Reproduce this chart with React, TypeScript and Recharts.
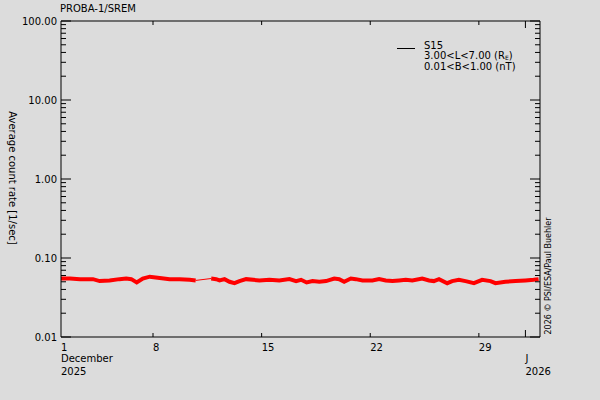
import { LineChart, Line, XAxis, YAxis, ReferenceLine } from "recharts";

const FONT = "'DejaVu Sans', sans-serif";

// S15 channel average count rate, x = day of month (Dec 2025; 32 = 1 Jan 2026)
const seg1Days = [2.07, 2.65, 3.29, 4.13, 4.56, 5.2, 5.84, 6.27, 6.6, 6.95, 7.34, 7.79, 8.43, 9.07, 9.72, 10.36, 10.75];
const seg1Rates = [0.055, 0.055, 0.054, 0.054, 0.051, 0.052, 0.054, 0.055, 0.054, 0.049, 0.055, 0.058, 0.056, 0.054, 0.054, 0.053, 0.052];

const seg2Days = [
  11.75, 12.07, 12.29, 12.61, 12.93, 13.25, 13.57, 14.0, 14.86, 15.5, 16.14, 16.79, 17.22, 17.54, 17.9, 18.28,
  18.72, 19.15, 19.68, 20.0, 20.32, 20.75, 21.07, 21.5, 22.14, 22.57, 23.0, 23.43, 23.86, 24.29, 24.71, 25.35,
  25.79, 26.1, 26.43, 26.96, 27.28, 27.71, 28.14, 28.68, 29.21, 29.75, 30.07, 30.71, 31.36, 32.0, 32.53, 32.85,
];
const seg2Rates = [
  0.055, 0.054, 0.052, 0.054, 0.05, 0.048, 0.051, 0.054, 0.052, 0.053, 0.052, 0.054, 0.051, 0.053, 0.049, 0.051,
  0.05, 0.051, 0.055, 0.054, 0.05, 0.055, 0.054, 0.052, 0.052, 0.054, 0.052, 0.051, 0.052, 0.053, 0.052, 0.055,
  0.052, 0.051, 0.054, 0.048, 0.051, 0.053, 0.051, 0.048, 0.053, 0.051, 0.048, 0.05, 0.051, 0.052, 0.053, 0.054,
];

// data gap bridged by a thin line
const gapDays = [10.75, 11.75];
const gapRates = [0.052, 0.055];

const xDomain = [2.07, 32.94];
const xTicks = [2.07, 8, 15, 22, 29, 32];
const xDayLabels = ["1", "8", "15", "22", "29", ""];
const xMonthLabels = ["December", "", "", "", "", "J"];
const xYearLabels = ["2025", "", "", "", "", "2026"];

const yMajor = [0.01, 0.1, 1, 10, 100];
const yMajorLabels = ["0.01", "0.10", "1.00", "10.00", "100.00"];
const yMinor = yMajor.slice(0, 4).flatMap(m => [2, 3, 4, 5, 6, 7, 8, 9].map(k => +(m * k).toPrecision(2)));

const toRows = (d: number[], v: number[]) => d.map((x, i) => ({ d: x, v: v[i] }));
const seg1 = toRows(seg1Days, seg1Rates);
const seg2 = toRows(seg2Days, seg2Rates);
const gap = toRows(gapDays, gapRates);

const PLOT_W = 479;
const PLOT_H = 316;

const YTick = (props: any) => {
  const { x, y, payload } = props;
  const i = yMajor.indexOf(payload.value);
  const len = i >= 0 ? 10 : 5;
  return (
    <g>
      <line x1={x} x2={x + len} y1={y} y2={y} stroke="#000" />
      <line x1={x + PLOT_W} x2={x + PLOT_W - len} y1={y} y2={y} stroke="#000" />
      {i >= 0 && (
        <text x={x - 4} y={y} dy={4} textAnchor="end" fontSize={10} fontFamily={FONT} fill="#000">
          {yMajorLabels[i]}
        </text>
      )}
    </g>
  );
};

const XTick = (props: any) => {
  const { x, y, payload } = props;
  const i = xTicks.indexOf(payload.value);
  const len = i === 5 ? 7 : i === 0 ? 0 : 4;
  return (
    <g fontSize={10} fontFamily={FONT} fill="#000">
      <line x1={x} x2={x} y1={y} y2={y - len} stroke="#000" />
      <line x1={x} x2={x} y1={y - PLOT_H} y2={y - PLOT_H + len} stroke="#000" />
      <text x={x} y={y + 14} textAnchor="start">{xDayLabels[i]}</text>
      <text x={x} y={y + 25} textAnchor="start">{xMonthLabels[i]}</text>
      <text x={x} y={y + 38} textAnchor="start">{xYearLabels[i]}</text>
    </g>
  );
};

export default function App() {
  return (
    <div style={{ position: "absolute", left: 0, top: 0, width: 600, height: 400, background: "#dcdcdc", fontFamily: FONT, color: "#000" }}>
      <LineChart width={600} height={400} margin={{ top: 21, right: 60, bottom: 33, left: 1 }}>
        <XAxis
          type="number"
          dataKey="d"
          domain={xDomain}
          allowDataOverflow
          ticks={xTicks}
          interval={0}
          tickSize={0}
          tickMargin={0}
          tickLine={false}
          height={30}
          axisLine={{ stroke: "#000" }}
          tick={<XTick />}
        />
        <YAxis
          type="number"
          scale="log"
          domain={[0.01, 100]}
          allowDataOverflow
          ticks={[...yMajor, ...yMinor]}
          interval={0}
          tickSize={0}
          tickMargin={0}
          tickLine={false}
          width={60}
          axisLine={{ stroke: "#000" }}
          tick={<YTick />}
        />
        <ReferenceLine y={100} stroke="#000" />
        <ReferenceLine x={32.94} stroke="#000" />
        <Line data={seg1} dataKey="v" type="linear" stroke="#ff0000" strokeWidth={4} dot={false} isAnimationActive={false} />
        <Line data={seg2} dataKey="v" type="linear" stroke="#ff0000" strokeWidth={4} dot={false} isAnimationActive={false} />
        <Line data={gap} dataKey="v" type="linear" stroke="#ff0000" strokeWidth={1} dot={false} isAnimationActive={false} />
      </LineChart>

      <div style={{ position: "absolute", left: 60, top: 3, fontSize: 10 }}>PROBA-1/SREM</div>

      <div style={{ position: "absolute", left: 12, top: 178, fontSize: 10, whiteSpace: "nowrap", transform: "translate(-50%, -50%) rotate(90deg)" }}>
        Average count rate [1/sec]
      </div>

      <div style={{ position: "absolute", left: 548, top: 276, fontSize: 8, whiteSpace: "nowrap", transform: "translate(-50%, -50%) rotate(-90deg)" }}>
        2026 © PSI/ESA/Paul Buehler
      </div>

      <div style={{ position: "absolute", left: 397, top: 48, width: 18, height: 1, background: "#000" }} />
      <div style={{ position: "absolute", left: 424, top: 41, fontSize: 10, lineHeight: "10px", whiteSpace: "nowrap" }}>
        <div>S15</div>
        <div>3.00&lt;L&lt;7.00 (R<span style={{ fontSize: 6, position: "relative", top: 1 }}>E</span>)</div>
        <div>0.01&lt;B&lt;1.00 (nT)</div>
      </div>
    </div>
  );
}
